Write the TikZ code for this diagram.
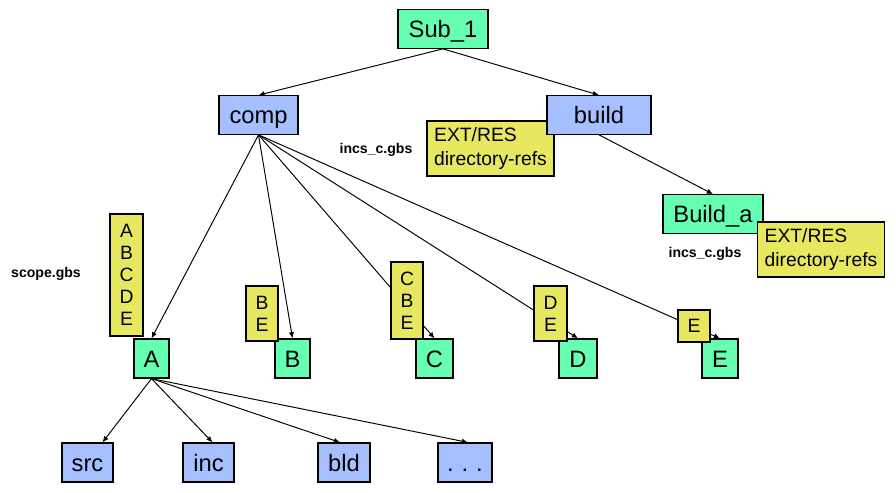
\documentclass[tikz,border=0pt]{standalone}
\usepackage{fontspec}
\setmainfont{Liberation Sans}
\definecolor{dirgreen}{RGB}{102, 255, 178}
\definecolor{dirblue}{RGB}{166, 191, 255}
\definecolor{noteyellow}{RGB}{232, 232, 96}
\usetikzlibrary{arrows.meta, positioning}

\begin{document}
\begin{tikzpicture}[
          x=0.02cm, y=-0.02cm,
          dirbox/.style={draw=black, line width=0.7pt, minimum height=0.77cm,
                         inner sep=0pt, text height=9.7pt, text depth=0pt,
                         font=\fontsize{13.5}{16}\selectfont},
          greenbox/.style={dirbox, fill=dirgreen},
          bluebox/.style={dirbox, fill=dirblue},
          notebox/.style={draw=black, line width=0.7pt, fill=noteyellow, inner sep=0pt,
                          font=\fontsize{11}{12.5}\selectfont, align=center},
          refnote/.style={notebox, minimum width=2.54cm, minimum height=1.1cm,
                          font=\fontsize{11}{13.7}\selectfont, align=left},
          gbsfile/.style={font=\fontsize{8}{9.6}\selectfont\bfseries},
          arr/.style={-{Latex[length=3.5pt,width=3pt]}, line width=0.55pt}
        ]
        \useasboundingbox (0,0) rectangle (896,493);

        \node[greenbox, minimum width=1.8cm] (sub1) at (443,29) {Sub\_1};
        \node[bluebox, minimum width=1.58cm] (comp) at (258.5,115) {comp};
        \node[refnote] (extres1) at (490.5,148.5) {EXT/RES\\directory-refs};
        \node[bluebox, minimum width=2.08cm] (build) at (599,115) {build};
        \node[greenbox, minimum width=2cm] (builda) at (713,214) {Build\_a};
        \node[refnote] (extres2) at (821,249.5) {EXT/RES\\directory-refs};

        \node[gbsfile] (incs1) at (376,150) {incs\_c.gbs};
        \node[gbsfile] (incs2) at (705,254) {incs\_c.gbs};
        \node[gbsfile] (scope) at (46,274) {scope.gbs};

        \node[greenbox, minimum width=0.7cm, minimum height=0.78cm] (a) at (151.5,358.5) {A};
        \node[greenbox, minimum width=0.7cm, minimum height=0.78cm] (b) at (292.5,358.5) {B};
        \node[greenbox, minimum width=0.74cm, minimum height=0.78cm] (c) at (434.5,358.5) {C};
        \node[greenbox, minimum width=0.76cm, minimum height=0.78cm] (d) at (578,358.5) {D};
        \node[greenbox, minimum width=0.72cm, minimum height=0.78cm] (e) at (720,358.5) {E};

        \node[bluebox, minimum width=1.02cm, minimum height=0.78cm] (src) at (87.5,462.5) {src};
        \node[bluebox, minimum width=1.02cm, minimum height=0.78cm] (inc) at (208.5,462.5) {inc};
        \node[bluebox, minimum width=1.04cm, minimum height=0.78cm] (bld) at (344,462.5) {bld};
        \node[bluebox, minimum width=1.08cm, minimum height=0.78cm] (more) at (465,462.5) {.\,\,.\,\,.};

        \draw[arr] (sub1.south) -- (comp.north);
        \draw[arr] (sub1.south) -- (build.north);
        \draw[arr] (build.south) -- (builda.north);
        \draw[arr] (comp.south) -- (a.north);
        \draw[arr] (comp.south) -- (b.north);
        \draw[arr] (comp.south) -- (c.north);
        \draw[arr] (comp.south) -- (d.north);
        \draw[arr] (comp.south) -- (e.north);
        \draw[arr] (a.south) -- ([xshift=0.3cm]src.north);
        \draw[arr] (a.south) -- ([xshift=0.08cm]inc.north);
        \draw[arr] (a.south) -- ([xshift=-0.08cm]bld.north);
        \draw[arr] (a.south) -- ([xshift=0.06cm]more.north);

        \node[notebox, minimum width=0.66cm, minimum height=2.44cm] (scopeabcde) at (126.5,275) {A\\B\\C\\D\\E};
        \node[notebox, minimum width=0.64cm, minimum height=1.1cm] (scopebe) at (262,313.5) {B\\E};
        \node[notebox, minimum width=0.64cm, minimum height=1.54cm] (scopecbe) at (407,300.5) {C\\B\\E};
        \node[notebox, minimum width=0.66cm, minimum height=1.1cm] (scopede) at (550.5,313.5) {D\\E};
        \node[notebox, minimum width=0.64cm, minimum height=0.64cm] (scopee) at (694,326) {E};
      \end{tikzpicture}
\end{document}
